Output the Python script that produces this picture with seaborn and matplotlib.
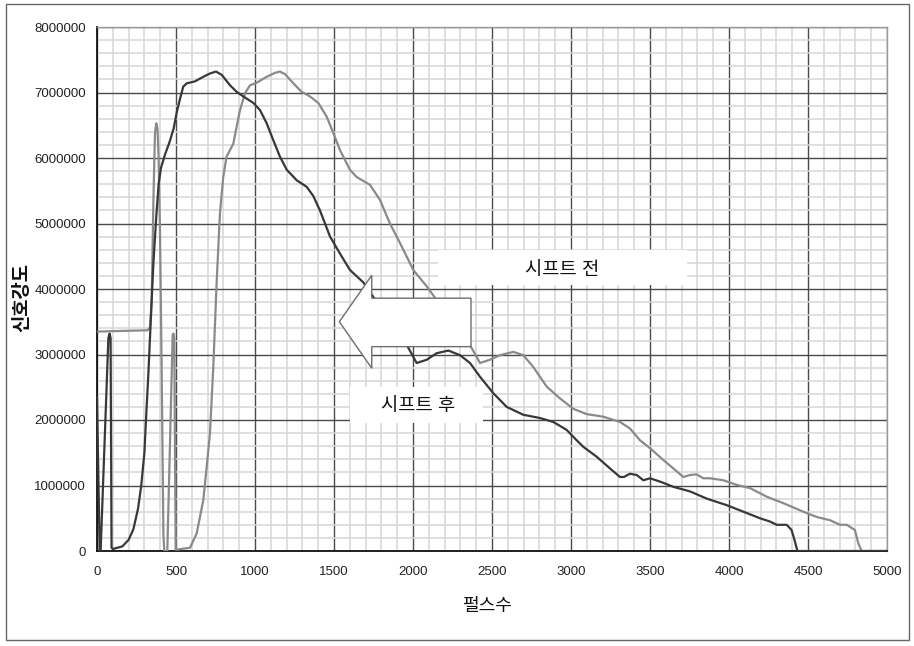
import matplotlib
matplotlib.use("Agg")
import matplotlib.pyplot as plt
from matplotlib.patches import Polygon, Rectangle
from matplotlib.ticker import MultipleLocator
import pandas as pd
import seaborn as sns

# Signal after the shift (dark trace)
pulse_after = [0, 17, 23, 72, 80, 86, 92, 100, 160, 200, 230, 260, 280, 300, 310,
               325, 340, 357, 375, 390, 405, 430, 460, 485, 505, 525, 546, 568, 620,
               673, 715, 753, 789, 842, 884, 926, 990, 1032, 1074, 1116, 1158, 1201,
               1264, 1327, 1369, 1411, 1475, 1538, 1601, 1686, 1800, 1900, 1971, 2023,
               2087, 2150, 2224, 2297, 2361, 2424, 2508, 2593, 2698, 2804, 2888, 2972,
               3036, 3078, 3162, 3247, 3310, 3335, 3373, 3416, 3458, 3500, 3563, 3648,
               3753, 3859, 3985, 4091, 4196, 4259, 4302, 4365, 4396, 4418, 4433, 5000]
signal_after = [2350000, 0, 0, 3250000, 3320000, 3250000, 50000, 30000, 70000, 170000,
                330000, 650000, 1000000, 1500000, 2000000, 2700000, 3500000, 4400000,
                5100000, 5600000, 5850000, 6050000, 6250000, 6450000, 6700000, 6900000,
                7090000, 7140000, 7170000, 7240000, 7290000, 7320000, 7270000, 7110000,
                7010000, 6940000, 6840000, 6730000, 6530000, 6270000, 6020000, 5820000,
                5660000, 5560000, 5420000, 5200000, 4800000, 4540000, 4290000, 4100000,
                3700000, 3350000, 3100000, 2870000, 2920000, 3020000, 3060000, 2990000,
                2870000, 2660000, 2410000, 2200000, 2080000, 2030000, 1970000, 1850000,
                1690000, 1590000, 1440000, 1260000, 1130000, 1130000, 1180000, 1160000,
                1080000, 1110000, 1060000, 980000, 910000, 800000, 700000, 600000,
                500000, 450000, 400000, 400000, 320000, 140000, 0, 0]

# Signal before the shift (light trace)
pulse_before = [0, 320, 335, 346, 357, 367, 375, 383, 390, 399, 409, 420, 426, 445,
                479, 484, 489, 498, 504, 589, 631, 673, 694, 715, 736, 757, 778, 799,
                820, 863, 884, 905, 937, 968, 1011, 1074, 1127, 1158, 1190, 1243, 1295,
                1348, 1401, 1454, 1496, 1538, 1601, 1643, 1728, 1791, 1854, 1918, 2002,
                2087, 2150, 2250, 2330, 2371, 2424, 2487, 2551, 2635, 2698, 2761, 2846,
                2930, 3015, 3099, 3205, 3310, 3373, 3437, 3500, 3584, 3648, 3711, 3753,
                3795, 3838, 3880, 3964, 4048, 4133, 4238, 4344, 4470, 4555, 4639, 4703,
                4745, 4797, 4818, 4839, 5000]
signal_before = [3350000, 3370000, 3410000, 3830000, 5360000, 6380000, 6530000,
                 6450000, 6000000, 4850000, 2810000, 270000, 0, 0, 3300000, 3320000,
                 3250000, 20000, 20000, 50000, 270000, 780000, 1280000, 1800000,
                 2810000, 4090000, 5150000, 5710000, 6020000, 6220000, 6480000,
                 6730000, 6990000, 7110000, 7150000, 7240000, 7300000, 7320000,
                 7280000, 7140000, 7010000, 6940000, 6840000, 6630000, 6380000,
                 6120000, 5820000, 5710000, 5590000, 5360000, 5000000, 4700000,
                 4290000, 4040000, 3830000, 3500000, 3250000, 3100000, 2870000,
                 2920000, 2990000, 3040000, 2990000, 2810000, 2510000, 2330000,
                 2170000, 2090000, 2050000, 1970000, 1870000, 1690000, 1570000,
                 1390000, 1260000, 1130000, 1160000, 1170000, 1110000, 1110000,
                 1080000, 1010000, 960000, 830000, 730000, 600000, 520000, 470000,
                 400000, 400000, 320000, 120000, 0, 0]

x_ticks = [0, 500, 1000, 1500, 2000, 2500, 3000, 3500, 4000, 4500, 5000]
y_ticks = [0, 1000000, 2000000, 3000000, 4000000, 5000000, 6000000, 7000000, 8000000]

label_before = "시프트 전"
label_after = "시프트 후"
x_label = "펄스수"
y_label = "신호강도"

sns.set_theme(style="white")
plt.rcParams["font.family"] = ["Liberation Sans", "Noto Sans CJK KR"]

W, H = 914, 646
fig = plt.figure(figsize=(W / 100, H / 100), dpi=100)
fig.patch.set_facecolor("white")
ax = fig.add_axes([97 / W, 1 - 551 / H, 790 / W, 524 / H])

df_before = pd.DataFrame({"pulse": pulse_before, "signal": signal_before})
df_after = pd.DataFrame({"pulse": pulse_after, "signal": signal_after})

sns.lineplot(data=df_before, x="pulse", y="signal", ax=ax, color="#8a8a8a",
             linewidth=1.6, sort=False, estimator=None, zorder=3)
sns.lineplot(data=df_after, x="pulse", y="signal", ax=ax, color="#383838",
             linewidth=1.6, sort=False, estimator=None, zorder=3)

ax.set_xlim(0, 5000)
ax.set_ylim(0, 8000000)
ax.set_xticks(x_ticks, labels=[str(v) for v in x_ticks])
ax.set_yticks(y_ticks, labels=[str(v) for v in y_ticks])
ax.xaxis.set_minor_locator(MultipleLocator(100))
ax.yaxis.set_minor_locator(MultipleLocator(200000))
ax.set_axisbelow(True)
ax.grid(which="minor", color="#d6d6d6", linewidth=1.1)
ax.grid(which="major", color="#4a4a4a", linewidth=1.0)
ax.tick_params(which="both", length=0)
ax.tick_params(axis="x", pad=11, labelsize=9.5, labelcolor="#222222")
ax.tick_params(axis="y", pad=8, labelsize=9.5, labelcolor="#222222")

for side in ("left", "bottom"):
    ax.spines[side].set_color("#111111")
    ax.spines[side].set_linewidth(1.3)
for side in ("top", "right"):
    ax.spines[side].set_color("#9a9a9a")
    ax.spines[side].set_linewidth(1.0)

ax.set_xlabel(x_label, fontsize=13, color="#111111")
ax.set_ylabel(y_label, fontsize=13.5, color="#111111", fontweight="bold")
ax.xaxis.set_label_coords((487 - 97) / 790, -(598 - 551) / 524)
ax.yaxis.set_label_coords((31 - 97) / 790, (551 - 297) / 524)

# Label boxes for the two traces
ax.add_patch(Rectangle((2160, 4060000), 1572, 540000, facecolor="white",
                       edgecolor="none", zorder=4))
ax.text(2946, 4290000, label_before, ha="center", va="center", fontsize=13.5,
        color="#111111", zorder=5)
ax.add_patch(Rectangle((1601, 1950000), 844, 560000, facecolor="white",
                       edgecolor="none", zorder=4))
ax.text(2034, 2200000, label_after, ha="center", va="center", fontsize=13.5,
        color="#111111", zorder=5)

# Block arrow showing the shift direction
arrow_pts = [(1534, 3500000), (1739, 4210000), (1739, 3860000), (2367, 3860000),
             (2367, 3120000), (1739, 3120000), (1739, 2790000)]
ax.add_patch(Polygon(arrow_pts, closed=True, facecolor="white",
                     edgecolor="#6e6e6e", linewidth=1.0, zorder=6))

# Outer frame around the figure
fig.patches.append(Rectangle((6 / W, 1 - 640 / H), 903 / W, 636 / H,
                             transform=fig.transFigure, fill=False,
                             edgecolor="#666666", linewidth=1.0))

fig.savefig("out.png", dpi=100, facecolor="white")
